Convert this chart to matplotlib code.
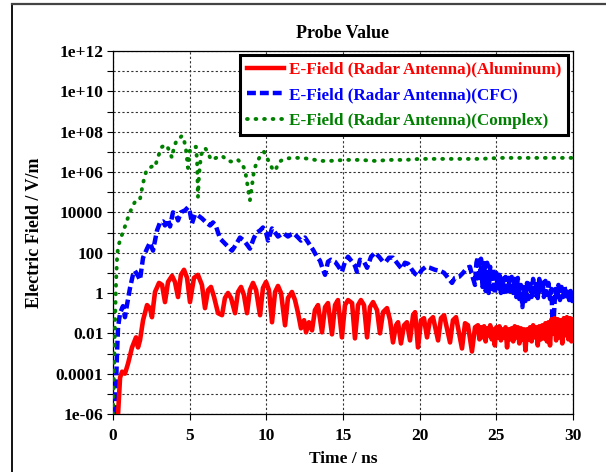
import numpy as np
import matplotlib
matplotlib.use("Agg")
import matplotlib.pyplot as plt
from matplotlib.lines import Line2D

# ---------------- data (time in ns, field as log10 exponent) ----------------
alu_t = [0.33, 0.46, 0.59, 0.78, 0.98, 1.24, 1.50, 1.63, 1.76, 1.96, 2.22, 2.41, 2.54, 2.74, 3.0, 3.2,
         3.39, 3.59, 3.85, 4.04, 4.24, 4.43, 4.63, 4.83, 5.02, 5.28, 5.54, 5.80, 6.0, 6.2, 6.39, 6.59,
         6.85, 7.11, 7.3, 7.5, 7.7, 7.96, 8.15, 8.35, 8.54, 8.74, 8.93, 9.13, 9.33, 9.59, 9.78, 9.98,
         10.17, 10.37, 10.57, 10.76, 10.96, 11.22, 11.41, 11.67, 11.87, 12.07, 12.26, 12.46, 12.59,
         12.78, 12.98, 13.17, 13.37, 13.63, 13.83, 14.02, 14.28, 14.48, 14.67, 14.93, 15.13, 15.33,
         15.59, 15.78, 15.98, 16.17, 16.37, 16.57, 16.76, 16.96, 17.22, 17.41, 17.61, 17.87, 18.07,
         18.26, 18.46, 18.59, 18.78, 18.98, 19.17, 19.37, 19.57, 19.7, 19.89, 20.09, 20.28, 20.48,
         20.67, 20.87, 21.2, 21.39, 21.59, 21.98, 22.17, 22.37, 22.76, 22.96, 23.15, 23.41, 23.61,
         23.8, 23.9, 24.0, 24.1, 24.2, 24.3, 24.4, 24.5, 24.6, 24.7, 24.8, 24.9, 25.0, 25.1, 25.2,
         25.3, 25.4, 25.5, 25.6, 25.7, 25.8, 25.9, 26.0, 26.1, 26.2, 26.3, 26.4, 26.5, 26.6, 26.7,
         26.8, 26.9, 27.0, 27.1, 27.2, 27.3, 27.4, 27.5, 27.6, 27.7, 27.8, 27.9, 28.0, 28.1, 28.2,
         28.3, 28.4, 28.5, 28.6, 28.7, 28.8, 28.9, 29.0, 29.1, 29.2, 29.3, 29.4, 29.5, 29.6, 29.7,
         29.8, 29.9, 30.0]
alu_exp = [-6.0, -4.2, -3.9, -4.0, -3.5, -2.7, -2.2, -2.7, -2.35, -1.35, -0.6, -0.75, -1.2, 0.05, 0.5, 0.4,
           -0.45, 0.55, 0.85, 0.55, -0.2, 0.9, 1.15, 0.75, -0.45, 0.75, 0.9, 0.4, -0.75, 0.15, 0.3, -0.2,
           -1.0, -1.1, -0.25, 0.0, -0.25, -1.0, 0.05, 0.3, -0.1, -1.0, 0.15, 0.5, 0.15, -1.1, 0.25, 0.55,
           0.15, -1.45, 0.05, 0.35, 0.0, -1.6, -0.25, 0.05, -0.35, -1.0, -1.75, -1.35, -1.95,
           -1.45, -1.85, -0.85, -0.6, -1.95, -0.7, -0.5, -2.05, -0.6, -0.35, -2.2, -0.6, -0.35,
           -0.5, -2.25, -0.6, -0.35, -0.6, -2.2, -0.7, -0.45, -0.85, -2.0, -0.95, -0.75, -1.35,
           -2.45, -1.6, -1.45, -2.5, -1.6, -1.45, -2.35, -1.1, -0.95, -2.7, -1.35, -1.25, -2.2,
           -1.35, -1.2, -2.35, -1.25, -1.1, -2.45, -1.35, -1.2, -2.75, -1.5, -1.6, -2.9, -1.7,
           -1.6, -2.3, -1.7, -2.2, -1.65, -2.4, -1.75, -2.1, -1.6, -2.3, -1.8, -2.6, -1.7, -2.2, -1.65,
           -2.35, -1.8, -2.2, -1.7, -2.7, -1.8, -2.3, -1.75, -2.4, -1.65, -2.2, -1.7, -2.5, -1.75, -2.3,
           -1.8, -2.85, -1.8, -2.3, -1.7, -2.4, -1.6, -2.2, -1.7, -2.6, -1.65, -2.3, -1.6, -2.25, -1.5,
           -2.4, -1.45, -2.6, -1.3, -2.0, -1.25, -2.35, -1.3, -2.2, -1.35, -2.5, -1.25, -2.1, -1.2, -2.3,
           -1.25, -2.4, -1.3]

cfc_t = [0.13, 0.2, 0.26, 0.33, 0.46, 0.65, 0.78, 0.91, 1.11, 1.3, 1.43, 1.63, 1.76, 1.96, 2.22, 2.41,
         2.61, 2.87, 3.07, 3.26, 3.39, 3.59, 3.72, 3.91, 4.11, 4.24, 4.43, 4.7, 4.89, 5.02, 5.15, 5.35,
         5.54, 5.8, 6.07, 6.33, 6.52, 6.72, 6.98, 7.24, 7.43, 7.76, 8.02, 8.28, 8.54, 8.74, 8.93, 9.2,
         9.39, 9.59, 9.78, 9.98, 10.11, 10.37, 10.57, 10.76, 10.96, 11.15, 11.41, 11.61, 11.8, 12.07,
         12.26, 12.52, 12.78, 13.04, 13.3, 13.5, 13.7, 13.83, 14.02, 14.22, 14.48, 14.67, 14.93,
         15.13, 15.33, 15.59, 15.78, 15.91, 16.11, 16.37, 16.57, 16.83, 17.09, 17.35, 17.61, 17.8,
         18.0, 18.26, 18.52, 18.72, 18.85, 19.04, 19.24, 19.5, 19.7, 19.89, 20.15, 20.41, 20.67,
         21.0, 21.33, 21.59, 21.85, 22.11, 22.3, 22.57, 22.83, 23.09, 23.28, 23.41, 23.61,
         23.7, 23.8, 23.9, 24.0, 24.1, 24.2, 24.3, 24.4, 24.5, 24.6, 24.7, 24.8, 24.9, 25.0, 25.1,
         25.2, 25.3, 25.4, 25.5, 25.6, 25.7, 25.8, 25.9, 26.0, 26.1, 26.2, 26.3, 26.4, 26.5, 26.6,
         26.7, 26.8, 26.9, 27.0, 27.1, 27.2, 27.3, 27.4, 27.5, 27.6, 27.7, 27.8, 27.9, 28.0, 28.1,
         28.2, 28.3, 28.4, 28.5, 28.6, 28.65, 28.75, 28.85, 28.95, 29.05, 29.15, 29.25, 29.35,
         29.45, 29.55, 29.65, 29.75, 29.85, 29.95, 30.0]
cfc_exp = [-6.0, -4.55, -3.05, -1.7, -1.0, -0.65, -1.2, -0.6, 0.25, 0.9, 1.1, 0.85, 0.65, 1.75, 2.2, 2.5,
           2.1, 3.1, 3.5, 3.55, 3.35, 3.65, 3.3, 4.0, 3.9, 3.6, 4.0, 4.1, 4.25, 4.0, 3.45, 3.9,
           3.85, 3.7, 3.5, 3.35, 3.5, 3.3, 2.7, 2.5, 2.35, 2.1, 2.4, 2.75, 2.6, 2.4, 2.2, 2.75,
           3.0, 3.1, 3.25, 3.0, 2.6, 3.2, 3.0, 2.8, 2.9, 2.95, 2.8, 2.9, 2.95, 2.75,
           2.6, 2.75, 2.45, 2.15, 1.8, 1.6, 1.15, 0.9, 1.55, 1.65, 1.55, 1.35, 1.05,
           1.55, 1.8, 1.55, 1.35, 1.05, 1.65, 1.55, 1.25, 1.8, 2.0, 1.8, 1.55, 1.55,
           1.75, 1.75, 1.5, 1.3, 1.2, 1.5, 1.45, 1.15, 0.95, 0.85, 1.15, 1.3, 1.25,
           1.15, 1.1, 1.0, 0.75, 0.5, 0.75, 0.8, 1.0, 1.25, 1.3, 0.9, 0.4,
           1.5, 1.8, 0.6, 1.7, 0.3, 1.6, 0.1, 1.5, 0.0, 1.3, 0.2, 1.2, -0.05, 1.0, 0.1,
           0.9, 0.0, 0.85, 0.05, 0.8, -0.1, 0.75, 0.1, 0.8, 0.0, 0.7, -0.2, 0.75, -0.3, 0.4,
           -0.7, 0.3, -0.4, 0.5, -0.3, 0.6, -0.2, 0.7, -0.1, 0.6, -0.25, 0.7, 0.0, 0.65, -0.2,
           0.6, -0.1, 0.5, -0.3, 0.2, -1.3, -1.2, 0.2, -0.3, 0.4, -0.35, 0.3, -0.2,
           0.35, -0.3, 0.2, -0.35, 0.1, -0.4, -0.1]

cpx_t = [0.0, 0.07, 0.13, 0.2, 0.26, 0.33, 0.46, 0.59, 0.78, 0.91, 1.11, 1.3, 1.5, 1.76, 1.96, 2.15,
         2.35, 2.61, 2.74, 2.93, 3.2, 3.46, 3.65, 3.85, 3.98, 4.17, 4.37, 4.5, 4.63, 4.76, 4.89, 5.02,
         5.22, 5.41, 5.48, 5.54, 5.61, 5.74, 6.0, 6.2, 6.39, 6.72, 7.11, 7.5, 7.83, 8.15, 8.41, 8.61,
         8.74, 8.87, 8.93, 9.07, 9.2, 9.39, 9.65, 9.85, 10.11, 10.37, 10.57, 10.83, 11.15, 11.67,
         12.2, 12.85, 13.5, 14.15, 15.13, 16.11, 17.09, 18.07, 19.04, 20.02, 21.33, 22.63, 23.93,
         25.24, 26.54, 27.85, 29.15, 30.0]
cpx_exp = [-6.0, -3.8, -1.45, 0.55, 1.65, 2.3, 2.6, 2.9, 3.3, 3.6, 4.0, 4.35, 4.6, 4.65, 5.45, 6.0,
           6.2, 6.3, 6.25, 6.75, 7.25, 7.35, 7.1, 6.7, 7.25, 7.6, 7.7, 7.8, 7.6, 7.1, 6.2, 7.1,
           7.25, 7.25, 6.6, 4.75, 5.85, 6.85, 7.2, 6.95, 6.6, 6.7, 6.8, 6.55, 6.5, 6.6, 6.4, 6.1,
           5.5, 4.85, 4.6, 5.35, 6.1, 6.5, 6.85, 7.0, 6.6, 6.2, 6.05, 6.5, 6.65, 6.7,
           6.7, 6.65, 6.55, 6.55, 6.6, 6.6, 6.55, 6.6, 6.6, 6.65, 6.65, 6.65, 6.65,
           6.7, 6.7, 6.7, 6.7, 6.7]

series_labels = ["E-Field (Radar Antenna)(Aluminum)",
                 "E-Field (Radar Antenna)(CFC)",
                 "E-Field (Radar Antenna)(Complex)"]
series_colors = ["#ff0000", "#0000ff", "#008000"]

ytick_vals = [1e-6, 1e-4, 1e-2, 1, 1e2, 1e4, 1e6, 1e8, 1e10, 1e12]
ytick_labels = ["1e-06", "0.0001", "0.01", "1", "100", "10000", "1e+06", "1e+08", "1e+10", "1e+12"]
xtick_vals = [0, 5, 10, 15, 20, 25, 30]

# ---------------- figure ----------------
plt.rcParams['font.family'] = ['Liberation Serif', 'DejaVu Serif']
plt.rcParams['font.weight'] = 'bold'

fig = plt.figure(figsize=(6.06, 4.72), dpi=100)
ax = fig.add_axes([113 / 606, 1 - 414 / 472, 460 / 606, 363 / 472])

ax.set_yscale('log')
ax.set_xlim(0, 30)
ax.set_ylim(1e-6, 1e12)

dash_style = (0, (2.0, 0.9))
dot_style = (0, (0.2, 2.0))

ax.plot(cfc_t, 10.0 ** np.array(cfc_exp), color=series_colors[1], lw=3.2,
        linestyle=dash_style, dash_capstyle='butt', label=series_labels[1], zorder=3)
ax.plot(alu_t, 10.0 ** np.array(alu_exp), color=series_colors[0], lw=3.3,
        solid_joinstyle='round', label=series_labels[0], zorder=4)
ax.plot(cpx_t, 10.0 ** np.array(cpx_exp), color=series_colors[2], lw=2.8,
        linestyle=dot_style, dash_capstyle='round', label=series_labels[2], zorder=3)

# grid & ticks
ax.yaxis.set_major_locator(matplotlib.ticker.FixedLocator(ytick_vals))
ax.yaxis.set_major_formatter(matplotlib.ticker.FixedFormatter(ytick_labels))
ax.yaxis.set_minor_locator(matplotlib.ticker.FixedLocator([10.0 ** k for k in range(-6, 13)]))
ax.yaxis.set_minor_formatter(matplotlib.ticker.NullFormatter())
ax.set_xticks(xtick_vals)
ax.grid(True, which='both', axis='y', color='#333333', linestyle=(0, (2, 2)), lw=0.8)
ax.grid(True, which='major', axis='x', color='#333333', linestyle=(0, (2, 2)), lw=0.8)
ax.set_axisbelow(True)

ax.tick_params(axis='both', which='both', direction='out', length=4, width=0.8,
               labelsize=12.5, pad=3)
ax.tick_params(axis='x', pad=6)
for lab in ax.get_xticklabels() + ax.get_yticklabels():
    lab.set_fontweight('bold')
for sp in ax.spines.values():
    sp.set_linewidth(0.9)

ax.set_title("Probe Value", fontsize=13, fontweight='bold', pad=9)
ax.set_xlabel("Time / ns", fontsize=12.5, fontweight='bold', labelpad=5)
ax.set_ylabel("Electric Field / V/m", fontsize=13, fontweight='bold', labelpad=9)

handles = [Line2D([], [], color=series_colors[0], lw=3.2),
           Line2D([], [], color=series_colors[1], lw=3.2, linestyle=dash_style),
           Line2D([], [], color=series_colors[2], lw=2.8, linestyle=dot_style,
                  dash_capstyle='round')]
leg = ax.legend(handles, series_labels, loc='upper right', bbox_to_anchor=(0.989, 0.989),
                fontsize=12.3, frameon=True, fancybox=False, framealpha=1, edgecolor='black',
                handlelength=2.2, handletextpad=0.25, labelspacing=0.55, borderpad=0.4,
                borderaxespad=0.0)
leg.get_frame().set_linewidth(2.2)
for txt, c in zip(leg.get_texts(), series_colors):
    txt.set_color(c)
    txt.set_fontweight('bold')
leg.set_zorder(10)

# outer frame
fig.add_artist(Line2D([12 / 606, 12 / 606], [0, 1 - 4 / 472], color='black', lw=1.3,
                      transform=fig.transFigure))
fig.add_artist(Line2D([12 / 606, 1], [1 - 4 / 472, 1 - 4 / 472], color='#444444', lw=1.6,
                      transform=fig.transFigure))

fig.savefig("out.png", dpi=100)
